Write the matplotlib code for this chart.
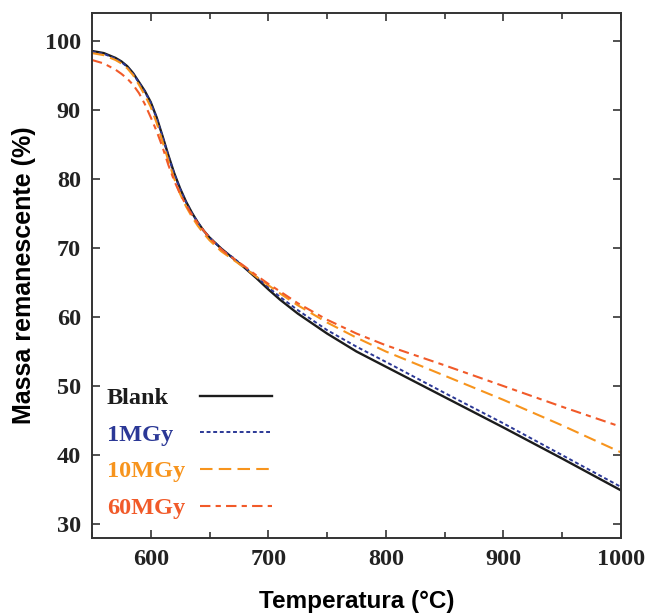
import numpy as np
import matplotlib
matplotlib.use("Agg")
import matplotlib.pyplot as plt
from matplotlib.ticker import MultipleLocator

# Temperatura (°C) e massa remanescente (%)
temp = [550, 560, 570, 575, 580, 585, 590, 595, 600, 605, 610, 615,
        620, 625, 630, 635, 640, 645, 650, 655, 660, 665, 670, 675, 680, 690,
        700, 710, 725, 750, 775, 800, 850, 900, 950, 1000]

blank = [98.5, 98.2, 97.5, 97.0, 96.3, 95.3, 94.0, 92.7, 91.1, 88.9,
         86.2, 83.4, 80.8, 78.6, 76.7, 75.1, 73.7, 72.5, 71.5, 70.7, 69.9, 69.2,
         68.5, 67.8, 67.1, 65.6, 64.0, 62.5, 60.5, 57.6, 55.0, 52.8, 48.4, 44.0,
         39.5, 34.9]

mgy1 = [98.4, 98.1, 97.4, 96.9, 96.2, 95.2, 93.9, 92.6, 91.0, 88.8,
        86.1, 83.3, 80.7, 78.5, 76.6, 75.0, 73.7, 72.5, 71.5, 70.7, 69.9, 69.2,
        68.6, 67.9, 67.2, 65.8, 64.3, 62.9, 61.0, 58.1, 55.7, 53.5, 49.0, 44.6,
        40.0, 35.4]

mgy10 = [98.2, 97.9, 97.2, 96.7, 96.0, 95.0, 93.6, 92.1, 90.4, 88.1,
         85.4, 82.6, 80.0, 77.8, 76.0, 74.5, 73.2, 72.1, 71.1, 70.3, 69.5, 68.9,
         68.3, 67.7, 67.1, 65.8, 64.6, 63.4, 61.7, 59.2, 57.0, 55.0, 51.5, 48.0,
         44.3, 40.4]

mgy60 = [97.2, 96.7, 95.8, 95.2, 94.5, 93.6, 92.4, 90.8, 88.9, 86.9,
         84.6, 82.0, 79.7, 77.8, 76.2, 74.8, 73.6, 72.5, 71.5, 70.6, 69.8, 69.1,
         68.5, 67.9, 67.3, 66.0, 64.8, 63.7, 62.0, 59.6, 57.6, 55.9, 53.0, 50.0,
         47.0, 44.1]

labels = ["Blank", "1MGy", "10MGy", "60MGy"]
colors = ["#1c1c1c", "#2b3896", "#f7941d", "#f15a29"]

fig = plt.figure(figsize=(6.45, 6.14), dpi=100)
ax = fig.add_axes([0.1426, 0.1238, 0.820, 0.855])

l0, = ax.plot(temp, blank, color=colors[0], lw=1.7)
l1, = ax.plot(temp, mgy1, color=colors[1], lw=1.4, dashes=(2, 1.4))
l2, = ax.plot(temp, mgy10, color=colors[2], lw=1.5, dashes=(6, 3))
l3, = ax.plot(temp, mgy60, color=colors[3], lw=1.5, dashes=(5, 2.5, 2.5, 2.5))
lines = [l0, l1, l2, l3]

ax.set_xlim(550, 1000)
ax.set_ylim(28, 104)
ax.xaxis.set_major_locator(MultipleLocator(100))
ax.xaxis.set_minor_locator(MultipleLocator(50))
ax.yaxis.set_major_locator(MultipleLocator(10))

serif = {"family": "Liberation Serif", "weight": "bold", "size": 17.5}
ax.tick_params(which="both", direction="in", top=True, right=True,
               color="#333333", width=1.2, pad=8)
ax.tick_params(which="major", length=6)
ax.tick_params(which="minor", length=4)
for lab in ax.get_xticklabels() + ax.get_yticklabels():
    lab.set_fontproperties(serif)
    lab.set_color("#222222")
for s in ax.spines.values():
    s.set_color("#333333")
    s.set_linewidth(1.4)

ax.set_xlabel("Temperatura (°C)", family="Liberation Sans", weight="bold",
              size=17.5, labelpad=14)
ax.set_ylabel("Massa remanescente (%)", family="Liberation Sans", weight="bold",
              size=18, labelpad=6)

# legenda: textos à esquerda, linhas à direita
leg_txt = ax.legend(lines, labels, loc="lower left", bbox_to_anchor=(0.028, 0.036),
                    frameon=False, handlelength=0, handletextpad=0,
                    borderpad=0, borderaxespad=0, labelspacing=0.6, prop=serif)
for h in leg_txt.legend_handles:
    h.set_visible(False)
for txt, c in zip(leg_txt.get_texts(), colors):
    txt.set_color(c)
ax.add_artist(leg_txt)

ax.legend(lines, [" "] * 4, loc="lower left", bbox_to_anchor=(0.204, 0.036),
          frameon=False, handlelength=2.95, handletextpad=0,
          borderpad=0, borderaxespad=0, labelspacing=0.6, prop=serif)

fig.savefig("out.png", dpi=100)
